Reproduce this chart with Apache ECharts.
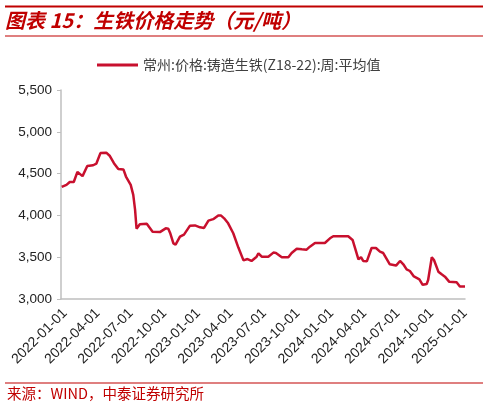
<!DOCTYPE html>
<html><head><meta charset="utf-8">
<script src="https://cdn.jsdelivr.net/npm/echarts@6/dist/echarts.min.js"></script>
<style>html,body{margin:0;padding:0;background:#fff}#c{width:488px;height:406px}</style>
</head><body><div id="c"></div>
<script>
var seriesName = '常州:价格:铸造生铁(Z18-22):周:平均值';
var dates = ['2021-12-23','2022-01-05','2022-01-14','2022-01-25','2022-02-04','2022-02-18','2022-03-03','2022-03-19','2022-03-28','2022-04-08',
'2022-04-24','2022-05-04','2022-05-15','2022-05-27','2022-06-10','2022-06-17','2022-06-30','2022-07-07','2022-07-12','2022-07-16',
'2022-07-25','2022-08-13','2022-08-17','2022-08-29','2022-09-18','2022-10-04','2022-10-11','2022-10-16','2022-10-25','2022-10-31',
'2022-11-12','2022-11-23','2022-12-09','2022-12-23','2023-01-06','2023-01-17','2023-01-29','2023-02-11','2023-02-25','2023-03-04',
'2023-03-13','2023-03-24','2023-04-07','2023-04-21','2023-05-05','2023-05-09','2023-05-16','2023-05-27','2023-06-10','2023-06-15',
'2023-06-24','2023-07-12','2023-07-26','2023-08-02','2023-08-18','2023-09-05','2023-09-14','2023-09-28','2023-10-12','2023-10-25',
'2023-11-03','2023-11-17','2023-12-14','2023-12-28','2024-01-06','2024-02-16','2024-02-28','2024-03-06','2024-03-15','2024-03-22',
'2024-03-28','2024-04-07','2024-04-20','2024-05-02','2024-05-13','2024-05-22','2024-06-09','2024-06-26','2024-07-07','2024-07-16',
'2024-07-25','2024-08-03','2024-08-14','2024-08-29','2024-09-07','2024-09-18','2024-09-22','2024-10-02','2024-10-08','2024-10-20',
'2024-10-29','2024-11-07','2024-11-19','2024-12-09','2024-12-18','2025-01-01'];
var prices = [4340,4365,4400,4400,4520,4470,4590,4600,4620,4745,
4750,4710,4625,4555,4550,4465,4365,4245,4065,3840,
3895,3900,3895,3805,3800,3845,3840,3790,3665,3650,
3745,3770,3875,3880,3857,3850,3937,3955,4000,4000,
3965,3905,3786,3615,3462,3446,3478,3455,3506,3547,
3506,3506,3555,3550,3500,3500,3550,3600,3594,3590,
3626,3670,3670,3726,3750,3750,3706,3606,3475,3500,
3455,3450,3610,3610,3566,3550,3415,3400,3455,3415,
3355,3335,3270,3236,3170,3180,3227,3500,3467,3327,
3295,3267,3205,3200,3150,3150];
var tickLabels = ['2022-01-01','2022-04-01','2022-07-01','2022-10-01','2023-01-01','2023-04-01','2023-07-01','2023-10-01','2024-01-01','2024-04-01','2024-07-01','2024-10-01','2025-01-01'];
var yMin = 3000, yMax = 5500, yStep = 500;

function ts(s){ var p = s.split('-'); return Date.UTC(+p[0], +p[1]-1, +p[2]); }
function fmt(v){ var d = new Date(v); function z(n){return (n<10?'0':'')+n;} return d.getUTCFullYear()+'-'+z(d.getUTCMonth()+1)+'-'+z(d.getUTCDate()); }
var data = dates.map(function(d,i){ return [ts(d), prices[i]]; });
var tickVals = tickLabels.map(ts);

var chart = echarts.init(document.getElementById('c'), null, {renderer:'canvas'});
chart.setOption({
  animation:false,
  backgroundColor:'#fff',
  title:{text:'图表 15：生铁价格走势（元/吨）', left:5, top:10, padding:0,
    textStyle:{color:'#c00000', fontSize:20, fontWeight:'bold', fontStyle:'italic', fontFamily:'"Noto Sans CJK SC", sans-serif'}},
  graphic:[
    {type:'rect', shape:{x:5,y:5.5,width:478,height:2}, style:{fill:'#c00000'}},
    {type:'rect', shape:{x:5,y:35.5,width:478,height:1}, style:{fill:'#c00000'}},
    {type:'rect', shape:{x:5,y:382.5,width:478,height:1}, style:{fill:'#c00000'}},
    {type:'text', left:7, top:386, style:{text:'来源：WIND，中泰证券研究所', fill:'#c00000', fontSize:14.5, fontFamily:'"Noto Sans CJK SC", sans-serif'}}
  ],
  legend:{show:true, left:92, top:53, itemWidth:41, itemHeight:3, itemGap:5, icon:'rect',
    textStyle:{color:'#404040', fontSize:14, fontFamily:'"Noto Sans CJK SC", sans-serif'}, data:[seriesName]},
  grid:{left:61, right:23, top:90, bottom:107, containLabel:false},
  xAxis:{type:'value', min:ts('2021-12-21'), max:ts('2025-01-01'), scale:true,
    axisLine:{show:true, lineStyle:{color:'#bfbfbf', width:1.5}},
    axisTick:{show:false}, splitLine:{show:false},
    axisLabel:{customValues:tickVals, rotate:45, margin:12, color:'#222', fontSize:14, fontFamily:'"Liberation Sans", Arial, sans-serif',
      formatter:function(v){ return fmt(v); }}},
  yAxis:{type:'value', min:yMin, max:yMax, interval:yStep,
    axisLine:{show:true, lineStyle:{color:'#bfbfbf', width:1.5}},
    axisTick:{show:true, length:4, lineStyle:{color:'#bfbfbf'}},
    splitLine:{show:false},
    axisLabel:{margin:9, color:'#222', fontSize:13.5, fontFamily:'"Liberation Sans", Arial, sans-serif',
      formatter:function(v){ return v.toLocaleString('en-US'); }}},
  series:[{name:seriesName, type:'line', data:data, showSymbol:false, symbol:'none',
    lineStyle:{color:'#c8102e', width:2.5}, itemStyle:{color:'#c8102e'}}]
});
</script></body></html>
